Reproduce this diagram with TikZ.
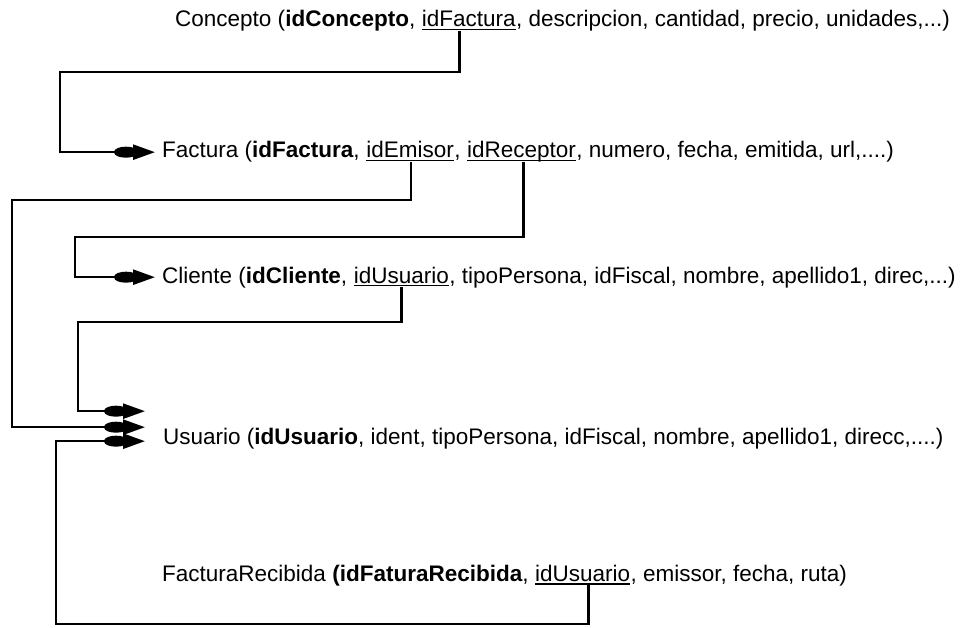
\documentclass[tikz,border=0pt]{standalone}
\usepackage{fontspec}
\setmainfont{Liberation Sans}
\usetikzlibrary{positioning,arrows.meta}
\newcommand{\fk}[1]{\setbox0=\hbox{#1}\rlap{\rule[-3.5pt]{\wd0}{1.9pt}}\smash{\box0}}

\begin{document}
\begin{tikzpicture}[x=1pt,y=-1pt,
    rel/.style={inner sep=0pt, anchor=base west, font=\fontsize{22.5}{27}\selectfont},
    nextto/.style={right=#1, anchor=base west},
    fkline/.style={line width=2.6pt, -{Ellipse[length=24pt,width=11pt,sep=-5pt] Triangle[length=22pt,width=15pt]}}]
    \useasboundingbox (0,0) rectangle (968,628);
    % Concepto
    \node[rel] (con) at (175,27) {Concepto (\textbf{idConcepto},};
    \node[rel, nextto=6.2pt of con.base east] (conFac) {\fk{idFactura}};
    \node[rel, nextto=0pt of conFac.base east] (conRest) {, descripcion, cantidad, precio, unidades,...)};
    % Factura
    \node[rel] (fac) at (162,158) {Factura (\textbf{idFactura},};
    \node[rel, nextto=6.2pt of fac.base east] (facEmi) {\fk{idEmisor}};
    \node[rel, nextto=0pt of facEmi.base east] (facSep) {,};
    \node[rel, nextto=6.2pt of facSep.base east] (facRec) {\fk{idReceptor}};
    \node[rel, nextto=0pt of facRec.base east] (facRest) {, numero, fecha, emitida, url,....)};
    % Cliente
    \node[rel] (cli) at (162,283) {Cliente (\textbf{idCliente},};
    \node[rel, nextto=6.2pt of cli.base east] (cliUsu) {\fk{idUsuario}};
    \node[rel, nextto=0pt of cliUsu.base east] (cliRest) {, tipoPersona, idFiscal, nombre, apellido1, direc,...)};
    % Usuario
    \node[rel] (usu) at (163,444) {Usuario (\textbf{idUsuario}, ident, tipoPersona, idFiscal, nombre, apellido1, direcc,....)};
    % FacturaRecibida
    \node[rel] (fre) at (162,581) {FacturaRecibida \textbf{(idFaturaRecibida},};
    \node[rel, nextto=6.2pt of fre.base east] (freUsu) {\fk{idUsuario}};
    \node[rel, nextto=0pt of freUsu.base east] (freRest) {, emissor, fecha, ruta)};
    % claves ajenas
    \draw[fkline] ([xshift=-9pt]conFac.south) |- (60,72) |- ([xshift=-7pt]fac.west);
    \draw[fkline] ([xshift=1pt]facEmi.south) |- (12,200) |- ([xshift=-18pt,yshift=11pt]usu.west);
    \draw[fkline] ([xshift=2pt]facRec.south) |- (75,237) |- ([xshift=-7pt]cli.west);
    \draw[fkline] (cliUsu.south) |- (78,322) |- ([xshift=-18pt,yshift=27pt]usu.west);
    \draw[fkline] ([xshift=6pt]freUsu.south) |- (56,624) |- ([xshift=-18pt,yshift=-3pt]usu.west);
\end{tikzpicture}
\end{document}
